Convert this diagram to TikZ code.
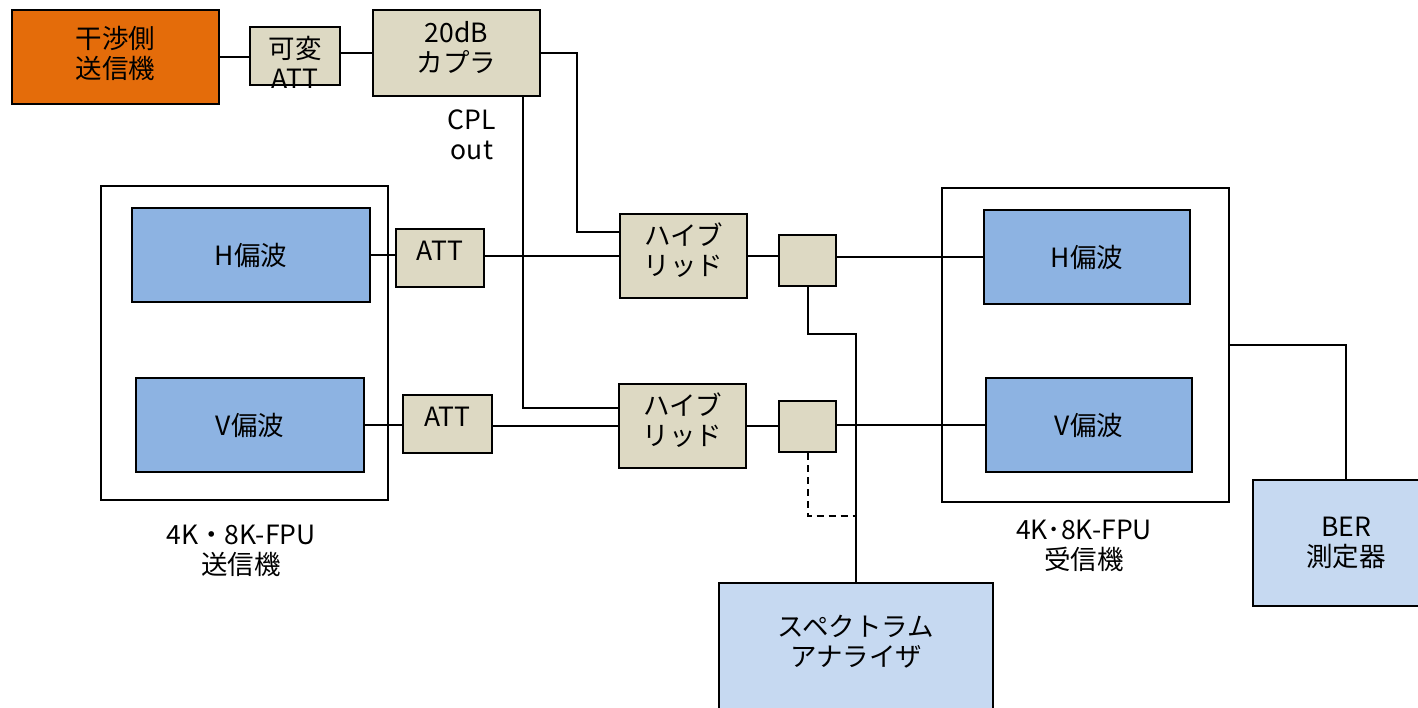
\documentclass[tikz,border=0pt]{standalone}
\usepackage{fontspec}
\setmainfont{Noto Sans CJK JP}
\usepackage{tikz}
\usetikzlibrary{positioning}

\definecolor{srcorange}{HTML}{E46C0A}
\definecolor{parttan}{HTML}{DDD9C3}
\definecolor{polblue}{HTML}{8DB3E2}
\definecolor{meterblue}{HTML}{C6D9F1}

\newcommand{\lblfont}{\fontsize{26.5}{30}\selectfont}

\tikzset{
    blk/.style={draw, line width=2pt, inner sep=0pt, align=center, font=\lblfont},
    partbox/.style={blk, fill=parttan},
    polbox/.style={blk, fill=polblue},
    meterbox/.style={blk, fill=meterblue},
    intext/.style={font=\lblfont, align=center},
    wire/.style={line width=2pt},
}

\begin{document}
\begin{tikzpicture}[x=1pt, y=-1pt]
    \clip (0,0) rectangle (1418,707);

    % Interfering transmitter chain
    \node[blk, fill=srcorange, minimum width=207, minimum height=94,
        label={[intext, yshift=4pt]center:{干渉側\\送信機}}] (src) at (115.5,57) {};
    \node[partbox, minimum width=90, minimum height=58,
        label={[intext, yshift=-6pt]center:{可変\\ATT}}] (vatt) at (295,56) {};
    \node[partbox, minimum width=167, minimum height=86,
        label={[intext, yshift=5.5pt]center:{20dB\\カプラ}}] (cpl) at (456.5,53) {};
    \node[intext] (cplout) at (472,135) {CPL\\out};

    % 4K/8K-FPU transmitter
    \node[blk, minimum width=287, minimum height=314] (txout) at (244.5,343) {};
    \node[polbox, minimum width=238, minimum height=94] (txh) at (251,255) {H偏波};
    \node[polbox, minimum width=228, minimum height=94] (txv) at (250,425) {V偏波};
    \node[intext] (txlbl) at (241,551) {4K・8K-FPU\\送信機};

    % Attenuators and hybrids
    \node[partbox, minimum width=88, minimum height=58,
        label={[intext, yshift=7pt]center:ATT}] (atth) at (440,258) {};
    \node[partbox, minimum width=89, minimum height=58,
        label={[intext, yshift=7pt]center:ATT}] (attv) at (447.5,424) {};
    \node[partbox, minimum width=127, minimum height=84,
        label={[intext, yshift=6pt]center:{ハイブ\\リッド}}] (hybh) at (683.5,256) {};
    \node[partbox, minimum width=127, minimum height=84,
        label={[intext, yshift=6pt]center:{ハイブ\\リッド}}] (hybv) at (682.5,426) {};
    \node[partbox, minimum width=57, minimum height=51] (taph) at (807.5,260.5) {};
    \node[partbox, minimum width=57, minimum height=51] (tapv) at (807.5,426.5) {};

    % 4K/8K-FPU receiver
    \node[blk, minimum width=287, minimum height=314] (rxout) at (1085.5,345) {};
    \node[polbox, minimum width=206, minimum height=94] (rxh) at (1087,257) {H偏波};
    \node[polbox, minimum width=206, minimum height=94] (rxv) at (1089,425) {V偏波};
    \node[intext] (rxlbl) at (1084,546) {4K･8K-FPU\\受信機};

    % Measuring instruments
    \node[meterbox, minimum width=274, minimum height=128,
        label={[intext, yshift=5pt]center:{スペクトラム\\アナライザ}}] (spec) at (856,647) {};
    \node[meterbox, minimum width=186, minimum height=126] (ber) at (1346,543) {BER\\測定器};

    % Connections
    \draw[wire] (src.east) -- (src.east -| vatt.west);
    \draw[wire] (cpl.west -| vatt.east) -- (cpl.west);
    \draw[wire] (cpl.east) -- ++(36,0) |- ([yshift=24pt]hybh.west);
    \draw[wire] ([xshift=-18pt]cpl.south east) |- ([yshift=18pt]hybv.west);

    \draw[wire] (txh.east) -- (txh.east -| atth.west);
    \draw[wire] (atth.east |- hybh.west) -- (hybh.west);
    \draw[wire] (txv.east) -- (txv.east -| attv.west);
    \draw[wire] (attv.east |- hybv.west) -- (hybv.west);

    \draw[wire] (hybh.east) -- (hybh.east -| taph.west);
    \draw[wire] (hybv.east) -- (hybv.east -| tapv.west);
    \draw[wire] (taph.east |- rxh.west) -- (rxh.west);
    \draw[wire] (tapv.east |- rxv.west) -- (rxv.west);

    \draw[wire] (taph.south) -- ++(0,47) -| (spec.north);
    \draw[wire, dash pattern=on 7pt off 5pt] (tapv.south) |- ([yshift=66pt]spec.north);
    \draw[wire] (rxout.east) -| (ber.north);
\end{tikzpicture}
\end{document}
